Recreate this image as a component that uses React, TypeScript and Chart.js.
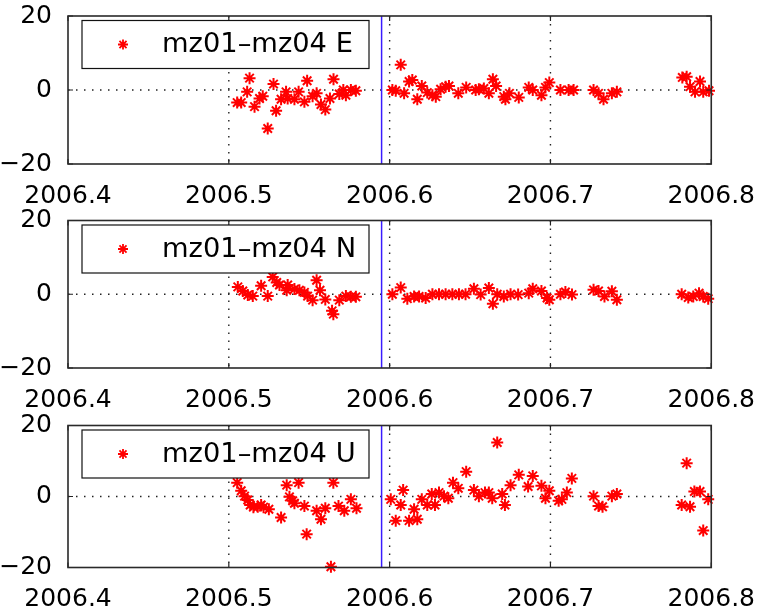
import React, { useEffect, useRef } from "react";
import { Chart, registerables } from "chart.js";

Chart.register(...registerables);

const xTickValues = [2006.4, 2006.5, 2006.6, 2006.7, 2006.8];
const yTickValues = [-20, 0, 20];
const eventDate = 2006.595;

const legendLabels = ["mz01\u2013mz04 E", "mz01\u2013mz04 N", "mz01\u2013mz04 U"];

const eastDates = [
  2006.5052, 2006.5077, 2006.5114, 2006.5129, 2006.516, 2006.5191, 2006.5211, 2006.5242, 2006.5278, 2006.5294,
  2006.5325, 2006.5356, 2006.5366, 2006.5408, 2006.5434, 2006.547, 2006.5487, 2006.5521, 2006.5546, 2006.5573,
  2006.56, 2006.5629, 2006.5651, 2006.5687, 2006.5712, 2006.5728, 2006.5759, 2006.579,
  2006.6017, 2006.6038, 2006.6069, 2006.609, 2006.6121, 2006.6141, 2006.6172, 2006.62, 2006.6234, 2006.6266,
  2006.6287, 2006.6317, 2006.6348, 2006.6369, 2006.6427, 2006.6476, 2006.6535, 2006.6555, 2006.6586, 2006.6617,
  2006.6642, 2006.6662, 2006.671, 2006.672, 2006.6745, 2006.6803, 2006.6865, 2006.689, 2006.6944, 2006.6969,
  2006.6993, 2006.7062, 2006.7113, 2006.7144, 2006.7268, 2006.7299, 2006.733, 2006.7382, 2006.7413, 2006.782,
  2006.7847, 2006.7868, 2006.7899, 2006.793, 2006.795, 2006.7986,
];
const eastValues = [
  -3.4, -3.4, -0.5, 3.2, -4.5, -2.3, -1.7, -10.4, 1.6, -5.6,
  -2.5, -0.5, -2.3, -2.5, -0.5, -3.2, 2.5, -1.7, -0.9, -3.9,
  -5.3, -2.3, 2.9, -1.1, 0, -1.4, 0, -0.2,
  0, -0.2, 6.8, -0.9, 2.3, 2.7, -2.5, 1.1, -0.7, -1.4,
  -1.8, 0.2, 0.9, 1.1, -0.9, 0.7, 0, 0.2, 0.4, -0.9,
  2.9, 1.1, -1.8, -2.5, -0.9, -2.0, 0.7, 0, -1.4, 0.7,
  2.0, 0, 0, 0, 0, -0.9, -2.5, -0.9, -0.5, 3.4,
  3.6, 0.9, -0.5, 2.3, -0.5, -0.2,
];

const northDates = [
  2006.5056, 2006.5087, 2006.5118, 2006.5149, 2006.5201, 2006.5242, 2006.5273, 2006.5298, 2006.5315, 2006.536,
  2006.5366, 2006.5408, 2006.5439, 2006.547, 2006.549, 2006.5521, 2006.5546, 2006.5567, 2006.56, 2006.5642,
  2006.565, 2006.5687, 2006.5728, 2006.5759, 2006.579,
  2006.6017, 2006.6069, 2006.611, 2006.6152, 2006.6183, 2006.6224, 2006.6266, 2006.6307, 2006.6348, 2006.639,
  2006.6431, 2006.6472, 2006.6524, 2006.6566, 2006.6617, 2006.6642, 2006.6669, 2006.671, 2006.6752, 2006.6799,
  2006.6865, 2006.689, 2006.6944, 2006.6979, 2006.6993, 2006.7062, 2006.7093, 2006.7134, 2006.7268, 2006.7299,
  2006.7336, 2006.7382, 2006.7413, 2006.7816, 2006.7857, 2006.7888, 2006.7924, 2006.795, 2006.7981,
];
const northValues = [
  2.0, 0.9, -0.2, -0.5, 2.3, -0.5, 4.7, 3.2, 2.5, 1.1,
  2.5, 1.4, 1.1, 0.5, -0.5, -1.6, 3.8, 1.1, -1.4, -4.5,
  -5.4, -1.6, -0.5, -0.7, -0.7,
  0, 1.8, -1.2, -0.6, -0.6, -1.0, 0, 0, 0, 0,
  0, 0, 1.5, -0.1, 1.7, -2.6, 0, -0.6, 0, -0.1,
  0.3, 1.5, 0.9, -1.0, -1.5, 0, 0.6, -0.1, 1.2, 0.9,
  -0.6, 0.8, -1.5, 0, -0.9, -0.6, 0.3, -0.6, -1.2,
];

const upDates = [
  2006.5052, 2006.5077, 2006.5098, 2006.5118, 2006.5133, 2006.5153, 2006.518, 2006.5201, 2006.5216, 2006.5249,
  2006.5325, 2006.536, 2006.5377, 2006.5397, 2006.5408, 2006.5434, 2006.547, 2006.5484, 2006.5546, 2006.5573,
  2006.56, 2006.5635, 2006.565, 2006.5682, 2006.5718, 2006.5759, 2006.5794,
  2006.6007, 2006.6038, 2006.6069, 2006.6084, 2006.6121, 2006.6152, 2006.6172, 2006.62, 2006.6234, 2006.6262,
  2006.6282, 2006.6307, 2006.6338, 2006.6365, 2006.6394, 2006.6427, 2006.6476, 2006.6524, 2006.6555, 2006.6593,
  2006.6617, 2006.6638, 2006.6669, 2006.67, 2006.6717, 2006.6752, 2006.6803, 2006.6861, 2006.689, 2006.6944,
  2006.6969, 2006.6993, 2006.7051, 2006.7071, 2006.7102, 2006.7133, 2006.7268, 2006.7299, 2006.7324, 2006.7382,
  2006.7413, 2006.7816, 2006.7847, 2006.7868, 2006.7895, 2006.793, 2006.795, 2006.7981,
];
const upValues = [
  3.9, 1.6, 0.1, -1.0, -2.4, -3.0, -2.9, -2.4, -3.0, -3.6,
  -5.9, 3.2, -0.1, -1.2, -1.9, 3.9, -2.7, -10.6, -4.0, -6.4,
  -3.3, -19.8, 3.9, -2.7, -4.0, -0.8, -3.3,
  -0.8, -6.8, -2.4, 1.8, -6.8, -3.6, -6.4, -0.8, -2.4, 0.7,
  -2.4, 1.1, 0.1, -0.5, 3.9, 2.3, 7.0, 1.8, 0.1, 1.1,
  1.1, -0.5, 15.2, 0.7, -2.4, 3.2, 6.1, 2.8, 5.8, 3.0,
  -0.5, 1.6, -1.2, -0.8, 1.1, 5.1, 0.1, -2.7, -2.9, 0.1,
  0.7, -2.4, 9.4, -2.9, 1.4, 1.4, -9.6, -0.8,
];

const FONT = '"DejaVu Sans", "Liberation Sans", Arial, sans-serif';

function drawStar(ctx: CanvasRenderingContext2D, cx: number, cy: number, r: number) {
  ctx.beginPath();
  for (let k = 0; k < 4; k++) {
    const ang = (k * Math.PI) / 4;
    const dx = Math.cos(ang) * r;
    const dy = Math.sin(ang) * r;
    ctx.moveTo(cx - dx, cy - dy);
    ctx.lineTo(cx + dx, cy + dy);
  }
  ctx.stroke();
}

const matlabAxes = {
  id: "matlabAxes",
  beforeDatasetsDraw(chart: any) {
    const { ctx, chartArea: a, scales } = chart;
    const x = scales.x;
    const y = scales.y;
    ctx.save();
    ctx.strokeStyle = "#222";
    ctx.lineWidth = 1.4;
    ctx.setLineDash([1.5, 6.5]);
    for (const v of xTickValues.slice(1, -1)) {
      const px = x.getPixelForValue(v);
      ctx.beginPath();
      ctx.moveTo(px, a.top);
      ctx.lineTo(px, a.bottom);
      ctx.stroke();
    }
    for (const v of yTickValues.slice(1, -1)) {
      const py = y.getPixelForValue(v);
      ctx.beginPath();
      ctx.moveTo(a.left, py);
      ctx.lineTo(a.right, py);
      ctx.stroke();
    }
    ctx.restore();
  },
  afterDatasetsDraw(chart: any, _args: any, opts: any) {
    const { ctx, chartArea: a, scales } = chart;
    const x = scales.x;
    const y = scales.y;
    ctx.save();
    const ex = x.getPixelForValue(eventDate);
    ctx.strokeStyle = "#3a1cff";
    ctx.lineWidth = 1.5;
    ctx.beginPath();
    ctx.moveTo(ex, a.top);
    ctx.lineTo(ex, a.bottom);
    ctx.stroke();
    ctx.strokeStyle = "#222";
    ctx.lineWidth = 1.2;
    const tl = 5;
    for (const v of xTickValues) {
      const px = x.getPixelForValue(v);
      ctx.beginPath();
      ctx.moveTo(px, a.top);
      ctx.lineTo(px, a.top + tl);
      ctx.moveTo(px, a.bottom);
      ctx.lineTo(px, a.bottom - tl);
      ctx.stroke();
    }
    for (const v of yTickValues) {
      const py = y.getPixelForValue(v);
      ctx.beginPath();
      ctx.moveTo(a.left, py);
      ctx.lineTo(a.left + tl, py);
      ctx.moveTo(a.right, py);
      ctx.lineTo(a.right - tl, py);
      ctx.stroke();
    }
    ctx.strokeStyle = "#2a2a2a";
    ctx.lineWidth = 1.6;
    ctx.strokeRect(a.left, a.top, a.right - a.left, a.bottom - a.top);
    const bx = a.left + 14;
    const by = a.top + 4.5;
    const bw = 287;
    const bh = 48;
    ctx.fillStyle = "#ffffff";
    ctx.fillRect(bx, by, bw, bh);
    ctx.strokeStyle = "#111";
    ctx.lineWidth = 1.2;
    ctx.strokeRect(bx, by, bw, bh);
    const cy = by + bh / 2;
    ctx.strokeStyle = "#ff0000";
    ctx.lineWidth = 1.8;
    drawStar(ctx, a.left + 55, cy, 5);
    ctx.fillStyle = "#000";
    ctx.font = `26px ${FONT}`;
    ctx.textBaseline = "middle";
    ctx.textAlign = "left";
    ctx.translate(a.left + 94, cy + 1);
    ctx.scale(1.05, 1);
    ctx.fillText(opts.label, 0, 0);
    ctx.restore();
  },
};

type PanelProps = {
  canvasTop: number;
  canvasHeight: number;
  axesTop: number;
  axesBottom: number;
  dates: number[];
  values: number[];
  label: string;
};

function Panel({ canvasTop, canvasHeight, axesTop, axesBottom, dates, values, label }: PanelProps) {
  const ref = useRef<HTMLCanvasElement>(null);
  useEffect(() => {
    const padTop = axesTop - canvasTop;
    const xAxisH = canvasHeight - (axesBottom - canvasTop);
    const n = Math.min(dates.length, values.length);
    const pts = [] as { x: number; y: number }[];
    for (let i = 0; i < n; i++) pts.push({ x: dates[i], y: values[i] });
    const chart = new Chart(ref.current as HTMLCanvasElement, {
      type: "scatter",
      data: {
        datasets: [
          {
            data: pts,
            pointStyle: "star",
            pointRadius: 6,
            borderColor: "#ff0000",
            backgroundColor: "#ff0000",
            borderWidth: 2,
            clip: false as any,
          } as any,
        ],
      },
      options: {
        animation: false,
        responsive: false,
        maintainAspectRatio: false,
        events: [],
        layout: { padding: { left: 0, right: 51, top: padTop, bottom: 0 } },
        plugins: {
          legend: { display: false },
          tooltip: { enabled: false },
          matlabAxes: { label },
        } as any,
        scales: {
          x: {
            type: "linear",
            min: 2006.4,
            max: 2006.8,
            grid: { display: false },
            border: { display: false },
            afterBuildTicks: (s: any) => {
              s.ticks = xTickValues.map((v) => ({ value: v }));
            },
            afterFit: (s: any) => {
              s.height = xAxisH;
            },
            ticks: {
              autoSkip: false,
              maxRotation: 0,
              minRotation: 0,
              padding: 9,
              color: "#000",
              font: { family: FONT, size: 25 },
              callback: (v: any) => Number(v).toFixed(1),
            },
          },
          y: {
            type: "linear",
            min: -20,
            max: 20,
            grid: { display: false },
            border: { display: false },
            afterBuildTicks: (s: any) => {
              s.ticks = yTickValues.map((v) => ({ value: v }));
            },
            afterFit: (s: any) => {
              s.width = 68;
            },
            ticks: {
              padding: 8,
              color: "#000",
              font: { family: FONT, size: 25 },
              callback: (v: any) => (Number(v) < 0 ? "\u2212" + Math.abs(Number(v)) : String(v)),
            },
          },
        },
      },
      plugins: [matlabAxes],
    });
    return () => chart.destroy();
  }, []);
  return (
    <canvas
      ref={ref}
      width={764}
      height={canvasHeight}
      style={{ position: "absolute", left: 0, top: canvasTop, width: 764, height: canvasHeight }}
    />
  );
}

export default function App() {
  return (
    <div style={{ position: "absolute", left: 0, top: 0, width: 764, height: 611, background: "#fff", overflow: "hidden" }}>
      <Panel canvasTop={-10} canvasHeight={220} axesTop={16} axesBottom={164} dates={eastDates} values={eastValues} label={legendLabels[0]} />
      <Panel canvasTop={194} canvasHeight={220} axesTop={220.5} axesBottom={368} dates={northDates} values={northValues} label={legendLabels[1]} />
      <Panel canvasTop={399} canvasHeight={212} axesTop={425.5} axesBottom={567.5} dates={upDates} values={upValues} label={legendLabels[2]} />
    </div>
  );
}
